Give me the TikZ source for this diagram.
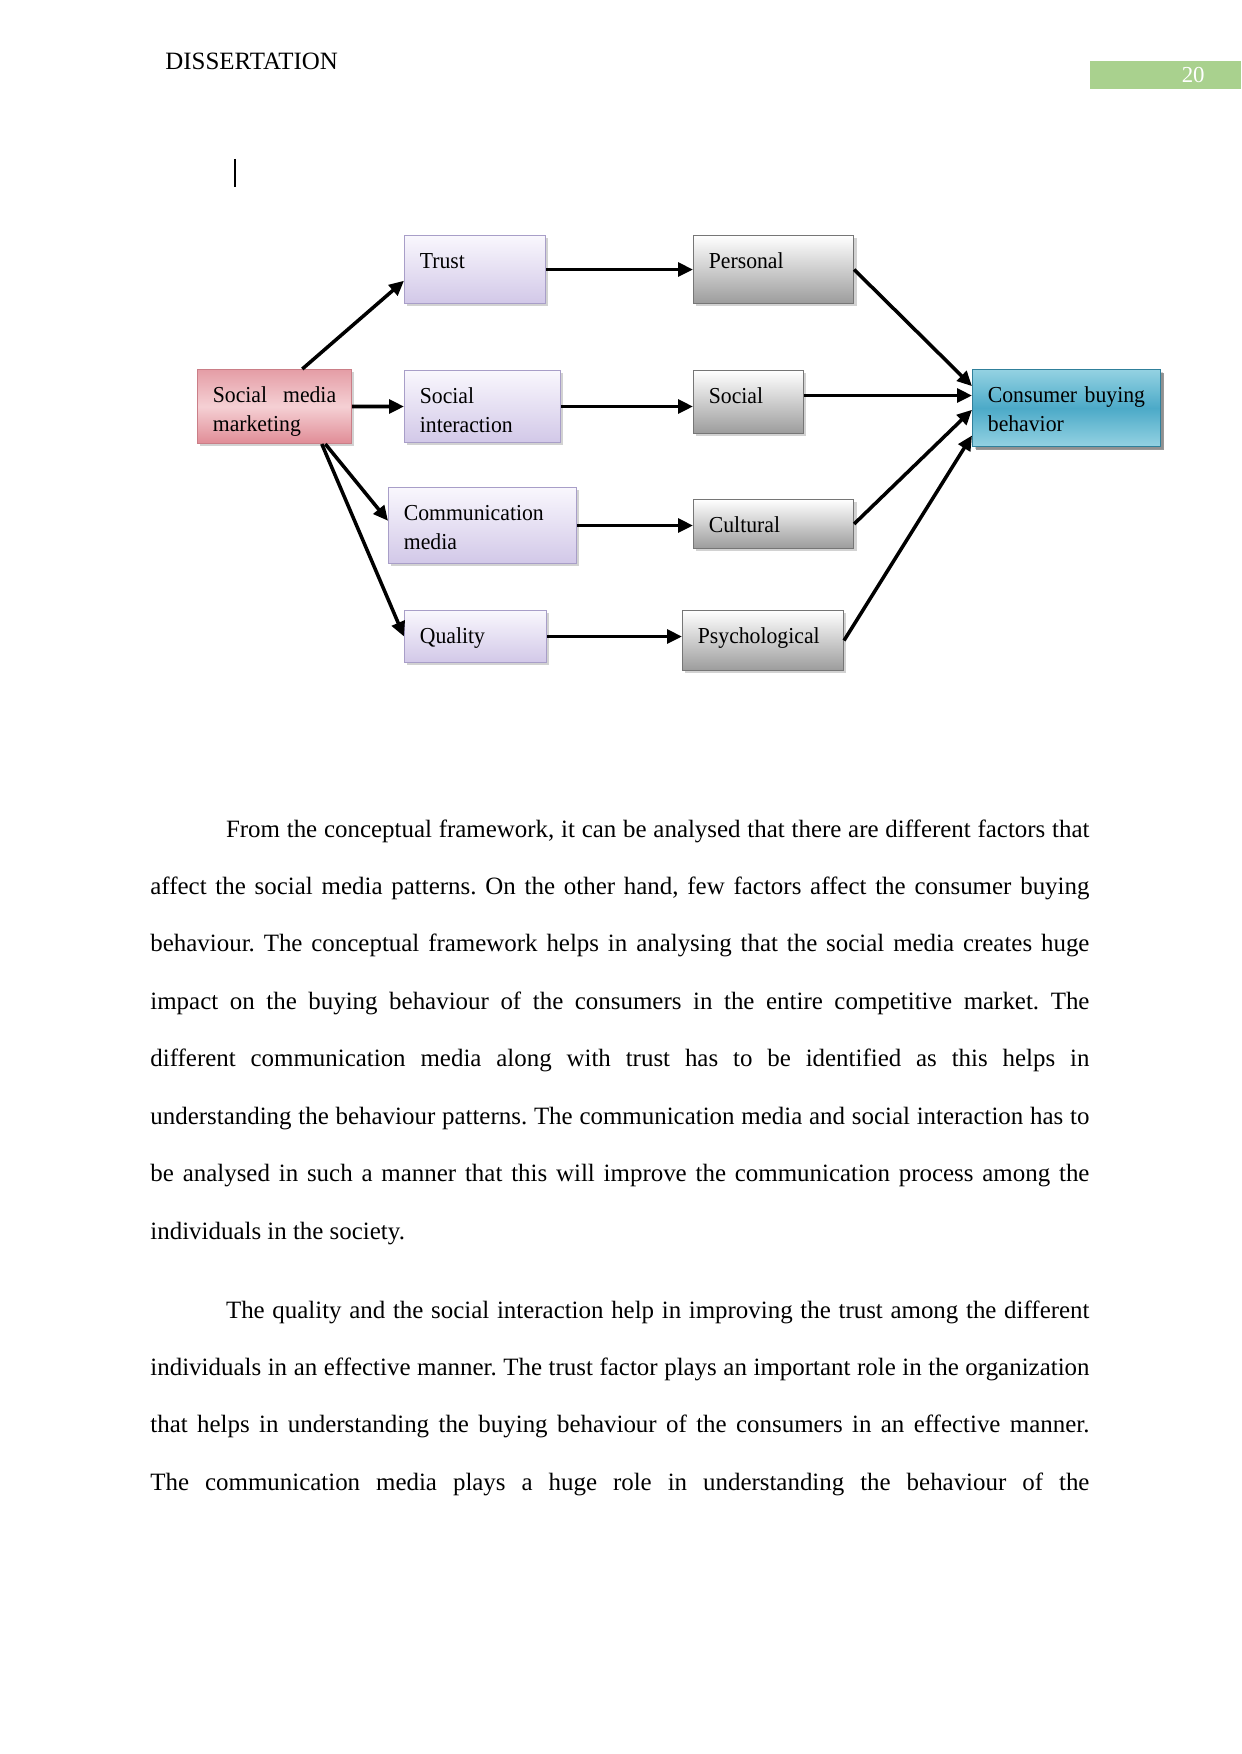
\documentclass[tikz,border=0pt]{standalone}
\usepackage{fontspec}
\setmainfont{Liberation Serif}
\newfontfamily\boxfont[FakeStretch=0.95]{Liberation Serif}
\usepackage{xcolor}
\usepackage{tikz}
\usetikzlibrary{arrows.meta,shadows}
\definecolor{smpink}{RGB}{224,140,150}
\definecolor{smpinklt}{RGB}{245,208,212}
\definecolor{smlav}{RGB}{210,200,232}
\definecolor{smlavlt}{RGB}{249,247,253}
\definecolor{smlavdk}{RGB}{168,158,200}
\definecolor{smgray}{RGB}{156,156,156}
\definecolor{smgraydk}{RGB}{118,118,118}
\definecolor{smteal}{RGB}{76,170,200}
\definecolor{smteallt}{RGB}{148,210,226}
\definecolor{smtealdk}{RGB}{48,128,155}
\definecolor{pagegreen}{RGB}{169,209,142}
\hyphenpenalty=10000
\exhyphenpenalty=10000
\frenchspacing
\tikzset{
  box/.style={rectangle,anchor=north west,inner xsep=2.6mm,inner ysep=0pt,text height=5.5mm,align=left,
    font=\boxfont\fontsize{11}{14.4}\selectfont,text=black,line width=0.5pt,
    drop shadow={shadow xshift=0.5mm,shadow yshift=-0.5mm,opacity=0.35}},
  factor/.style={box,draw=smlavdk,top color=smlavlt,bottom color=smlav},
  aspect/.style={box,draw=smgraydk,top color=white,bottom color=smgray},
  driver/.style={box,draw=smpink!90!black,top color=smpink!85,bottom color=smpink,middle color=smpinklt},
  outcome/.style={box,draw=smtealdk,top color=smteallt,bottom color=smteallt,middle color=smteal,
    drop shadow={shadow xshift=0.6mm,shadow yshift=-0.6mm,opacity=0.8}},
  arr/.style={-{Triangle[length=2.5mm,width=2.3mm]},line width=1.7pt,draw=black},
  para/.style={anchor=base west,inner sep=0pt,text width=158.9mm,align=justify,font=\fontsize{12}{27.66}\selectfont},
}

\begin{document}
\begin{tikzpicture}[x=0.16922mm,y=-0.16922mm]
  \useasboundingbox (0,0) rectangle (1241,1754);
  \fill[white] (0,0) rectangle (1241,1754);

  % running head
  \node[anchor=base west,inner sep=0pt,font=\fontsize{12}{14}\selectfont] (head) at (165,70) {DISSERTATION};
  \node[fill=pagegreen,anchor=north west,minimum width=25.55mm,minimum height=4.74mm,inner sep=0pt] (pgbar) at (1090,61) {};
  \node[anchor=base east,inner sep=0pt,text=white,font=\fontsize{11}{13}\selectfont] (pgnum) at (1205,83) {20};
  \draw[line width=0.6pt] (235,159) -- (235,187);

  % framework
  \node[driver,text width=20.86mm,text depth=7.02mm] (smm) at (197,369) {Social\hfill media\\marketing};
  \node[factor,text width=18.66mm,text depth=6.01mm] (trust) at (404,235) {Trust};
  \node[factor,text width=21.2mm,text depth=6.68mm] (socint) at (404,370) {Social\\interaction};
  \node[factor,text width=26.61mm,text depth=7.36mm] (comm) at (388,487) {Communication\\media};
  \node[factor,text width=18.83mm,text depth=3.3mm] (quality) at (404,610) {Quality};
  \node[aspect,text width=21.88mm,text depth=6.01mm] (personal) at (693,235) {Personal};
  \node[aspect,text width=13.41mm,text depth=5.16mm] (social) at (693,370) {Social};
  \node[aspect,text width=21.88mm,text depth=2.79mm] (cultural) at (693,499) {Cultural};
  \node[aspect,text width=22.04mm,text depth=4.65mm] (psych) at (682,610) {Psychological};
  \node[outcome,text width=26.61mm,text depth=7.53mm] (consumer) at (972,369) {Consumer buying\\behavior};

  \draw[arr] ([xshift=4.7mm]smm.north) -- ([yshift=-1.9mm]trust.west);
  \draw[arr] (smm.east) -- (socint.west);
  \draw[arr] ([xshift=8.6mm]smm.south) -- ([yshift=0.8mm]comm.west);
  \draw[arr] ([xshift=8mm]smm.south) -- (quality.west);
  \draw[arr] (trust.east) -- (personal.west);
  \draw[arr] (socint.east) -- (socint.east -| social.west);
  \draw[arr] (comm.east) -- (comm.east -| cultural.west);
  \draw[arr] (quality.east) -- (quality.east -| psych.west);
  \draw[arr] (personal.east) -- ([yshift=3.7mm]consumer.west);
  \draw[arr] ([yshift=1.1mm]social.east) -- ([yshift=1.1mm]social.east -| consumer.west);
  \draw[arr] (cultural.east) -- ([yshift=-0.3mm]consumer.west);
  \draw[arr] (psych.east) -- ([yshift=-4.65mm]consumer.west);

  % body text
  \node[para] (parone) at (150,837) {\hspace*{12.8mm}From the conceptual framework, it can be analysed that there are different factors that\linebreak
    affect the social media patterns. On the other hand, few factors affect the consumer buying\linebreak
    behaviour. The conceptual framework helps in analysing that the social media creates huge\linebreak
    impact on the buying behaviour of the consumers in the entire competitive market. The\linebreak
    different communication media along with trust has to be identified as this helps in\linebreak
    understanding the behaviour patterns. The communication media and social interaction has to\linebreak
    be analysed in such a manner that this will improve the communication process among the\linebreak
    individuals in the society.};
  \node[para] (partwo) at (150,1318) {\hspace*{12.8mm}The quality and the social interaction help in improving the trust among the different\linebreak
    individuals in an effective manner. The trust factor plays an important role in the organization\linebreak
    that helps in understanding the buying behaviour of the consumers in an effective manner.\linebreak
    The communication media plays a huge role in understanding the behaviour of the\parfillskip=0pt\par};
\end{tikzpicture}
\end{document}
